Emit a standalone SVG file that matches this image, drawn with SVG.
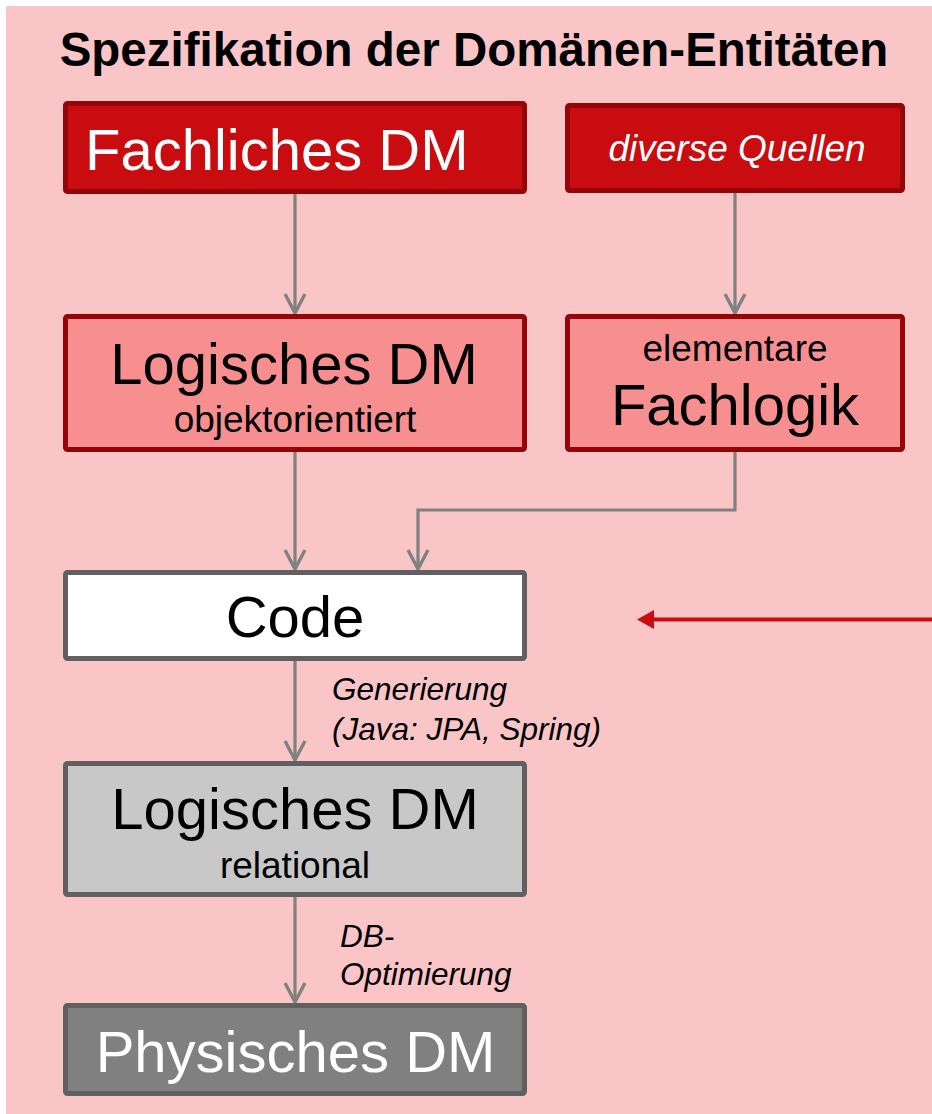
<svg xmlns="http://www.w3.org/2000/svg" width="932" height="1114" viewBox="0 0 932 1114">
  <style>
    .t { font-family: "Liberation Sans", Arial, sans-serif; }
    .big { font-size: 58px; }
    .mid { font-size: 37px; }
    .lbl { font-size: 31.5px; font-style: italic; fill: #000; }
    .conn { fill: none; stroke: #808080; stroke-width: 3.2; }
    .red { fill: #C80C10; stroke: #950508; stroke-width: 5; }
    .salmon { fill: #F78F90; stroke: #950508; stroke-width: 5; }
    .white { fill: #FFFFFF; stroke: #606060; stroke-width: 5; }
    .grey { fill: #C8C8C8; stroke: #606060; stroke-width: 5; }
    .dark { fill: #808080; stroke: #606060; stroke-width: 5; }
  </style>
  <defs>
    <!-- open chevron head, drawn along +x so orient="auto" follows the line -->
    <marker id="chev" viewBox="0 0 22 24" refX="20" refY="12" markerWidth="22" markerHeight="24" markerUnits="userSpaceOnUse" orient="auto">
      <path d="M1,2 L20,12 L1,22" fill="none" stroke="#808080" stroke-width="3.4"/>
    </marker>
  </defs>

  <!-- background panel -->
  <rect x="6" y="6" width="926" height="1108" fill="#F9C5C7"/>

  <text class="t" x="474" y="66" text-anchor="middle" font-size="47.5" font-weight="bold" fill="#000">Spezifikation der Domänen-Entitäten</text>

  <!-- connectors -->
  <g id="connectors">
    <line class="conn" x1="295" y1="194" x2="295" y2="313" marker-end="url(#chev)"/>
    <line class="conn" x1="735" y1="193" x2="735" y2="313" marker-end="url(#chev)"/>
    <line class="conn" x1="295" y1="452" x2="295" y2="569" marker-end="url(#chev)"/>
    <polyline class="conn" points="735,452 735,510 418,510 418,569" marker-end="url(#chev)"/>
    <line class="conn" x1="295" y1="661" x2="295" y2="760" marker-end="url(#chev)"/>
    <line class="conn" x1="295" y1="897" x2="295" y2="1002" marker-end="url(#chev)"/>
    <line x1="932" y1="619.5" x2="650" y2="619.5" stroke="#C80C10" stroke-width="4"/>
    <polygon points="637,619.5 654,610 654,629" fill="#C80C10"/>
    <text class="t lbl" x="332" y="700">Generierung</text>
    <text class="t lbl" x="332" y="740">(Java: JPA, Spring)</text>
    <text class="t lbl" x="340" y="947">DB-</text>
    <text class="t lbl" x="340" y="985">Optimierung</text>
  </g>

  <g id="fachliches-dm">
    <rect class="red" x="65.5" y="103.5" width="459" height="88" rx="2"/>
    <text class="t big" x="85" y="170" fill="#FFFFFF">Fachliches DM</text>
  </g>

  <g id="diverse-quellen">
    <rect class="red" x="567.5" y="105.5" width="335" height="85" rx="2"/>
    <text class="t mid" x="737" y="161" text-anchor="middle" font-style="italic" fill="#FFFFFF">diverse Quellen</text>
  </g>

  <g id="logisches-dm-oo">
    <rect class="salmon" x="65.5" y="316.5" width="459" height="133" rx="2"/>
    <text class="t big" x="294" y="384" text-anchor="middle" fill="#000">Logisches DM</text>
    <text class="t mid" x="295" y="432" text-anchor="middle" fill="#000">objektorientiert</text>
  </g>

  <g id="fachlogik">
    <rect class="salmon" x="567.5" y="316.5" width="335" height="133" rx="2"/>
    <text class="t mid" x="735" y="361" text-anchor="middle" fill="#000">elementare</text>
    <text class="t big" x="735" y="425" text-anchor="middle" fill="#000">Fachlogik</text>
  </g>

  <g id="code">
    <rect class="white" x="65.5" y="572.5" width="459" height="86" rx="2"/>
    <text class="t big" x="295" y="637" text-anchor="middle" fill="#000">Code</text>
  </g>

  <g id="logisches-dm-rel">
    <rect class="grey" x="65.5" y="763.5" width="459" height="131" rx="2"/>
    <text class="t big" x="295" y="829" text-anchor="middle" fill="#000">Logisches DM</text>
    <text class="t mid" x="295" y="878" text-anchor="middle" fill="#000">relational</text>
  </g>

  <g id="physisches-dm">
    <rect class="dark" x="65.5" y="1005.5" width="459" height="88" rx="2"/>
    <text class="t big" x="295.5" y="1072" text-anchor="middle" fill="#FFFFFF">Physisches DM</text>
  </g>
</svg>
